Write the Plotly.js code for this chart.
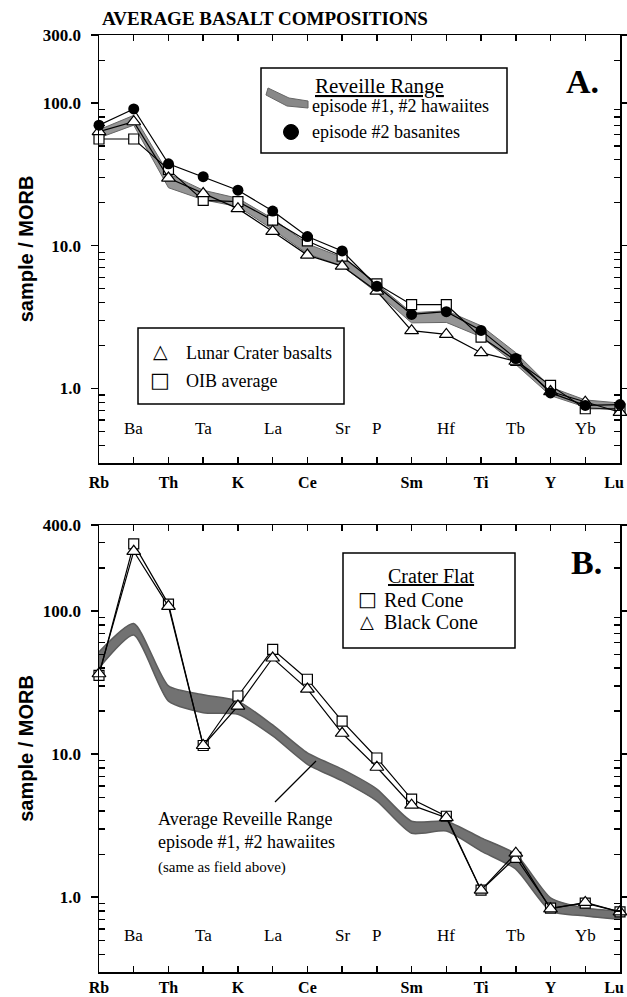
<!DOCTYPE html>
<html>
<head>
<meta charset="utf-8">
<script src="https://cdn.plot.ly/plotly-3.0.1.min.js"></script>
<style>
  html, body { margin: 0; padding: 0; background: #fff; }
  #chart { width: 627px; height: 997px; }
</style>
</head>
<body>
<div id="chart"></div>
<script>
// Element order of the MORB-normalised spider diagram
const elements = ['Rb','Ba','Th','Ta','K','La','Ce','Sr','P','Sm','Hf','Ti','Tb','Y','Yb','Lu'];
// true = bold label under the axis, false = label inside the plot above the axis
const labelBelow = [true,false,true,false,true,false,true,false,false,true,false,true,false,true,false,true];

// Panel A: Reveille Range and comparison suites (sample / MORB)
const basanites   = [70, 91, 37.5, 30.5, 24.5, 17.5, 11.6, 9.2, 5.2, 3.3, 3.45, 2.55, 1.62, 0.93, 0.76, 0.77];
const lunarCrater = [63, 74, 29.8, 23.2, 18.2, 12.6, 8.6, 7.2, 4.8, 2.54, 2.39, 1.78, 1.55, 0.95, 0.80, 0.68];
const oibAverage  = [56, 56, 34.3, 20.8, 20.4, 15.1, 10.8, 8.45, 5.4, 3.86, 3.86, 2.29, 1.57, 1.05, 0.72, 0.72];
const hawaiiteLow  = [57, 70, 25.5, 21, 18.8, 13, 8.8, 7.2, 4.7, 2.88, 2.9, 2.3, 1.47, 0.89, 0.74, 0.70];
const hawaiiteHigh = [65, 82, 32, 24.5, 21.5, 15.5, 10.3, 8.3, 5.4, 3.39, 3.5, 2.75, 1.78, 1.02, 0.83, 0.79];

// Panel B: Crater Flat cones against the Reveille Range hawaiite field
const redCone   = [35.5, 295, 112, 11.5, 25.5, 54, 33.4, 17, 9.4, 4.85, 3.68, 1.12, 1.9, 0.84, 0.91, 0.79];
const blackCone = [36.5, 262, 108, 11.5, 21.7, 47, 28.5, 14, 8.1, 4.4, 3.6, 1.12, 2.03, 0.83, 0.92, 0.79];
const fieldLowB  = [40, 68, 23.5, 19.5, 19, 13.4, 8.5, 6.5, 4.7, 2.8, 2.9, 2.1, 1.57, 0.8, 0.74, 0.7];
const fieldHighB = [52, 82, 30, 26, 23.5, 16, 10.2, 7.85, 5.7, 3.4, 3.4, 2.6, 2.0, 0.99, 0.84, 0.8];

// Axis tick labels
const yTicksA = [1, 10, 100, 300];
const yTickTextA = ['1.0', '10.0', '100.0', '300.0'];
const yTicksB = [1, 10, 100, 400];
const yTickTextB = ['1.0', '10.0', '100.0', '400.0'];

const SERIF = 'Liberation Serif, Times New Roman, serif';
const SANS = 'Liberation Sans, Arial, sans-serif';
const idx = elements.map((_, i) => i);

// minor log ticks 2..9 in each decade inside the range
function minorTicks(lo, hi) {
  const out = [];
  for (let d = 0.1; d <= 1000; d *= 10) {
    for (let k = 2; k <= 9; k++) {
      const v = +(k * d).toPrecision(3);
      if (v > lo && v < hi) out.push(v);
    }
  }
  return out;
}

const lineStyle = {color: '#000', width: 1.2};
const traces = [
  // Panel A field
  {x: idx, y: hawaiiteLow, xaxis: 'x', yaxis: 'y', mode: 'lines',
   line: {color: '#666', width: 1}, hoverinfo: 'skip'},
  {x: idx, y: hawaiiteHigh, xaxis: 'x', yaxis: 'y', mode: 'lines', fill: 'tonexty',
   fillcolor: '#959595', line: {color: '#666', width: 1}, hoverinfo: 'skip'},
  {x: idx, y: oibAverage, xaxis: 'x', yaxis: 'y', mode: 'lines+markers', name: 'OIB average',
   line: lineStyle, cliponaxis: false,
   marker: {symbol: 'square', size: 10, color: '#fff', line: {color: '#000', width: 1.2}}},
  {x: idx, y: lunarCrater, xaxis: 'x', yaxis: 'y', mode: 'lines+markers', name: 'Lunar Crater basalts',
   line: lineStyle, cliponaxis: false,
   marker: {symbol: 'triangle-up', size: 12, color: '#fff', line: {color: '#000', width: 1.2}}},
  {x: idx, y: basanites, xaxis: 'x', yaxis: 'y', mode: 'lines+markers', name: 'episode #2 basanites',
   line: lineStyle, cliponaxis: false,
   marker: {symbol: 'circle', size: 11, color: '#000'}},
  // Panel B field
  {x: idx, y: fieldLowB, xaxis: 'x2', yaxis: 'y2', mode: 'lines',
   line: {color: '#5c5c5c', width: 1.5, shape: 'spline', smoothing: 0.6}, hoverinfo: 'skip'},
  {x: idx, y: fieldHighB, xaxis: 'x2', yaxis: 'y2', mode: 'lines', fill: 'tonexty',
   fillcolor: '#727272', line: {color: '#5c5c5c', width: 1.5, shape: 'spline', smoothing: 0.6}, hoverinfo: 'skip'},
  {x: idx, y: redCone, xaxis: 'x2', yaxis: 'y2', mode: 'lines+markers', name: 'Red Cone',
   line: lineStyle, cliponaxis: false,
   marker: {symbol: 'square', size: 10, color: '#fff', line: {color: '#000', width: 1.2}}},
  {x: idx, y: blackCone, xaxis: 'x2', yaxis: 'y2', mode: 'lines+markers', name: 'Black Cone',
   line: lineStyle, cliponaxis: false,
   marker: {symbol: 'triangle-up', size: 12, color: '#fff', line: {color: '#000', width: 1.2}}}
];

// outer labels; the last one is padded so it stays inside the page at the right edge
const outerText = elements.map((e, i) => labelBelow[i] ? (i === elements.length - 1 ? e + '\u00a0\u00a0\u00a0' : e) : '');

function xAxis(anchor, standoff) {
  return {
    anchor: anchor, domain: [0, 1], range: [0, 15],
    tickmode: 'array', tickvals: idx, ticktext: outerText,
    ticks: 'inside', ticklen: 6, tickwidth: 1.5, tickcolor: '#000',
    showline: true, linewidth: 1.5, linecolor: '#000', mirror: 'ticks',
    showgrid: false, zeroline: false, ticklabelstandoff: standoff,
    ticklabeloverflow: 'allow',
    tickfont: {family: SERIF, size: 16, weight: 'bold', color: '#000'}
  };
}
function yAxis(anchor, domain, top, vals, text) {
  return {
    anchor: anchor, domain: domain, type: 'log',
    range: [Math.log10(0.3), Math.log10(top)],
    tickmode: 'array', tickvals: vals, ticktext: text,
    ticks: 'outside', ticklen: 7, tickwidth: 1.5, tickcolor: '#000',
    minor: {tickmode: 'array', tickvals: minorTicks(0.3, top), ticks: 'inside',
            ticklen: 6, tickwidth: 1.2, tickcolor: '#000'},
    showline: true, linewidth: 1.5, linecolor: '#000', mirror: 'ticks',
    showgrid: false, zeroline: false, ticklabelstandoff: 6,
    tickfont: {family: SERIF, size: 17, weight: 'bold', color: '#000'},
    title: {text: 'sample / MORB', standoff: 4,
            font: {family: SANS, size: 20, weight: 'bold', color: '#000'}}
  };
}

// pixel helpers for decorations (plot area: x 99..620, A: y 35..463, B: y 525..972)
const dx = px => (px - 99) / 521;
const dyA = py => (463 - py) / 428;
const dyB = py => (972 - py) / 447;

const annotations = [];
elements.forEach((e, i) => {
  if (!labelBelow[i]) {
    annotations.push({xref: 'x', yref: 'y domain', x: i, y: 0.054, text: e, showarrow: false,
      font: {family: SERIF, size: 17, color: '#000'}});
    annotations.push({xref: 'x2', yref: 'y2 domain', x: i, y: 0.056, text: e, showarrow: false,
      font: {family: SERIF, size: 17, color: '#000'}});
  }
});

const txt = (xref, yref, x, y, text, size, opts) => Object.assign({
  xref: xref, yref: yref, x: x, y: y, text: text, showarrow: false,
  xanchor: 'left', yanchor: 'middle', font: {family: SERIF, size: size, color: '#000'}
}, opts || {});

annotations.push(
  // panel letters
  txt('x domain', 'y domain', dx(582), dyA(82), 'A.', 34, {xanchor: 'center', font: {family: SERIF, size: 34, weight: 'bold', color: '#000'}}),
  txt('x2 domain', 'y2 domain', dx(586), dyB(562), 'B.', 34, {xanchor: 'center', font: {family: SERIF, size: 34, weight: 'bold', color: '#000'}}),
  // panel A upper legend
  txt('x domain', 'y domain', dx(379), dyA(86), '<u>Reveille Range</u>', 21, {xanchor: 'center'}),
  txt('x domain', 'y domain', dx(310), dyA(106), 'episode #1, #2 hawaiites', 18),
  txt('x domain', 'y domain', dx(310), dyA(132), 'episode #2 basanites', 18),
  // panel A lower legend
  txt('x domain', 'y domain', dx(160), dyA(351), '\u25B3', 20, {xanchor: 'center', font: {family: 'DejaVu Sans', size: 19, color: '#000'}}),
  txt('x domain', 'y domain', dx(184), dyA(353), 'Lunar Crater basalts', 18),
  txt('x domain', 'y domain', dx(160), dyA(380), '\u25A1', 20, {xanchor: 'center', font: {family: 'DejaVu Sans', size: 21, color: '#000'}}),
  txt('x domain', 'y domain', dx(184), dyA(381), 'OIB average', 18),
  // panel B legend
  txt('x2 domain', 'y2 domain', dx(431), dyB(576), '<u>Crater Flat</u>', 20, {xanchor: 'center'}),
  txt('x2 domain', 'y2 domain', dx(367), dyB(599), '\u25A1', 20, {xanchor: 'center', font: {family: 'DejaVu Sans', size: 20, color: '#000'}}),
  txt('x2 domain', 'y2 domain', dx(382), dyB(600), 'Red Cone', 20),
  txt('x2 domain', 'y2 domain', dx(367), dyB(621), '\u25B3', 20, {xanchor: 'center', font: {family: 'DejaVu Sans', size: 18, color: '#000'}}),
  txt('x2 domain', 'y2 domain', dx(382), dyB(622), 'Black Cone', 20),
  // panel B field label
  txt('x2 domain', 'y2 domain', dx(156), dyB(842),
      'Average Reveille Range<br>episode #1, #2 hawaiites<br><span style="font-size:15px">(same as field above)</span>', 18,
      {align: 'left'})
);

// small band swatch for the hawaiite field in the legend
const swatch = [[268, 88], [289, 98], [308, 101], [308, 108], [287, 106], [266, 95]];
const swatchPath = 'M ' + swatch.map(p => dx(p[0]).toFixed(4) + ',' + dyA(p[1]).toFixed(4)).join(' L ') + ' Z';

const shapes = [
  {type: 'rect', xref: 'x domain', yref: 'y domain', x0: dx(261), x1: dx(507), y0: dyA(153), y1: dyA(68),
   line: {color: '#000', width: 1.5}},
  {type: 'rect', xref: 'x domain', yref: 'y domain', x0: dx(138), x1: dx(344), y0: dyA(404), y1: dyA(328),
   line: {color: '#000', width: 1.5}},
  {type: 'rect', xref: 'x2 domain', yref: 'y2 domain', x0: dx(343), x1: dx(515), y0: dyB(648), y1: dyB(553),
   line: {color: '#000', width: 1.5}},
  {type: 'path', xref: 'x domain', yref: 'y domain', path: swatchPath,
   fillcolor: '#888', line: {color: '#666', width: 1}},
  {type: 'circle', xref: 'x domain', yref: 'y domain', xsizemode: 'pixel', ysizemode: 'pixel',
   xanchor: dx(291), yanchor: dyA(132), x0: -7.5, x1: 7.5, y0: -7.5, y1: 7.5,
   fillcolor: '#000', line: {color: '#000', width: 1}},
  // leader from the label to the field
  {type: 'line', xref: 'x2 domain', yref: 'y2 domain', x0: dx(275), y0: dyB(802), x1: dx(316), y1: dyB(761),
   line: {color: '#000', width: 1.3}}
];

const layout = {
  width: 627, height: 997,
  margin: {l: 99, r: 7, t: 35, b: 25},
  paper_bgcolor: '#fff', plot_bgcolor: '#fff',
  showlegend: false,
  title: {text: 'AVERAGE BASALT COMPOSITIONS', xref: 'container', x: 102 / 627, xanchor: 'left',
          yref: 'container', y: 1 - 18 / 997, yanchor: 'middle',
          font: {family: SERIF, size: 19, weight: 'bold', color: '#000'}},
  xaxis: xAxis('y', 4),
  yaxis: yAxis('x', [(972 - 463) / 937, 1], 300, yTicksA, yTickTextA),
  xaxis2: xAxis('y2', 0),
  yaxis2: yAxis('x2', [0, (972 - 525) / 937], 400, yTicksB, yTickTextB),
  annotations: annotations,
  shapes: shapes
};

Plotly.newPlot('chart', traces, layout, {staticPlot: true, displayModeBar: false});
</script>
</body>
</html>
